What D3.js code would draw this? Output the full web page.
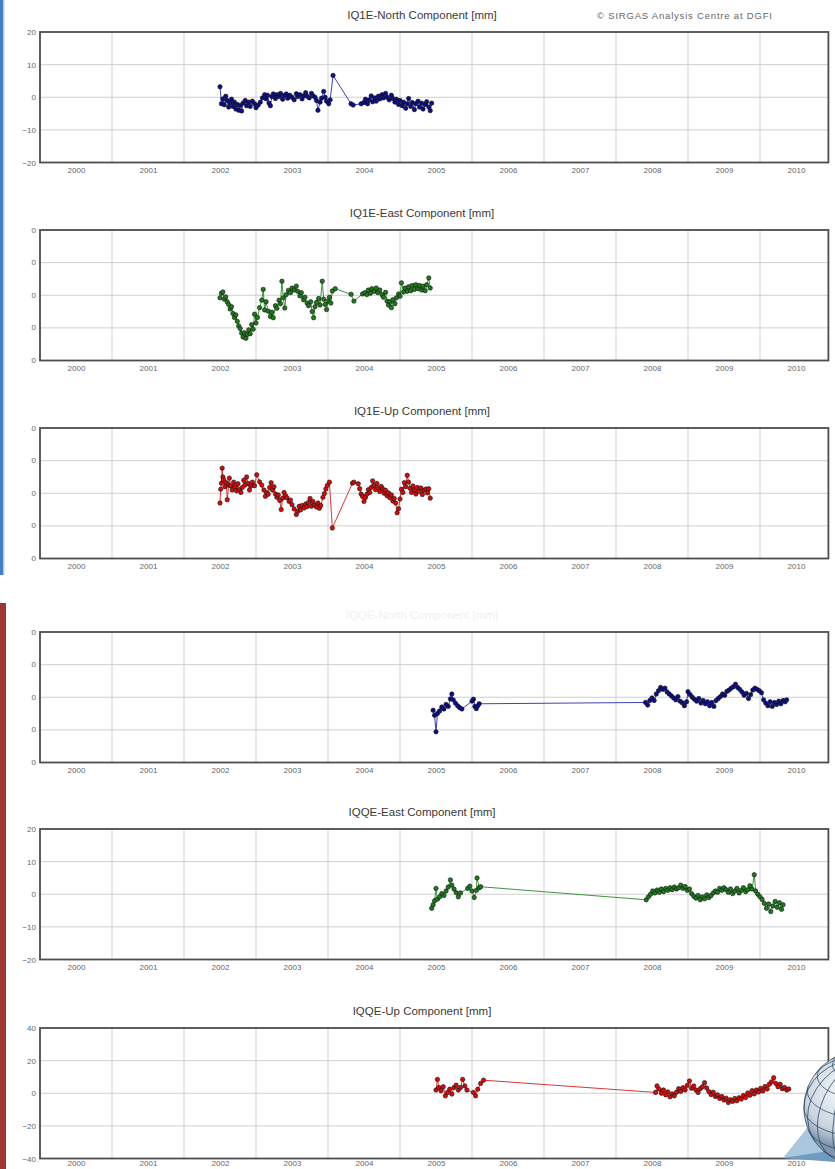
<!DOCTYPE html>
<html>
<head>
<meta charset="utf-8">
<script src="https://cdn.jsdelivr.net/npm/d3@7"></script>
<style>
  body { margin: 0; background: #fff; }
  svg { display: block; font-family: "Liberation Sans", Arial, sans-serif; }
</style>
</head>
<body>
<svg id="chart" width="835" height="1169"></svg>
<script>
// tick labels
const years = [2000, 2001, 2002, 2003, 2004, 2005, 2006, 2007, 2008, 2009, 2010];
const gridYears = [2000.5, 2001.5, 2002.5, 2003.5, 2004.5, 2005.5, 2006.5, 2007.5, 2008.5, 2009.5];
const ticks20 = [-20, -10, 0, 10, 20];
const ticks40 = [-40, -20, 0, 20, 40];

// station IQ1E, [epoch, mm]
const iq1eNorth = [
  [2002.00,3.2],[2002.02,-2.0],[2002.04,-0.5],[2002.06,-2.3],[2002.08,0.3],[2002.10,-1.0],[2002.12,-3.0],
  [2002.14,-1.8],[2002.16,-0.6],[2002.18,-2.8],[2002.20,-1.5],[2002.22,-3.6],[2002.24,-2.2],[2002.26,-4.0],
  [2002.28,-2.5],[2002.30,-4.2],[2002.32,-1.8],[2002.35,-1.0],[2002.37,-2.6],[2002.40,-1.5],[2002.42,-2.8],
  [2002.45,-1.2],[2002.48,-2.0],[2002.50,-3.2],[2002.53,-2.4],[2002.56,-1.5],[2002.59,-0.2],[2002.62,0.8],
  [2002.64,-0.5],[2002.66,0.6],[2002.68,-1.8],[2002.70,-2.6],[2002.72,0.2],[2002.74,1.0],[2002.77,-0.4],
  [2002.79,0.8],[2002.82,0.2],[2002.84,1.2],[2002.87,-0.6],[2002.89,0.5],[2002.92,1.0],[2002.94,-0.3],
  [2002.97,0.6],[2003.00,0.0],[2003.03,-0.8],[2003.06,1.1],[2003.08,0.2],[2003.11,0.8],[2003.14,-0.5],
  [2003.16,0.4],[2003.19,1.4],[2003.21,0.3],[2003.24,-0.2],[2003.27,1.2],[2003.29,0.5],[2003.32,0.0],
  [2003.34,-1.0],[2003.36,-4.0],[2003.39,-1.5],[2003.41,-0.3],[2003.44,1.8],[2003.46,0.0],[2003.48,-1.2],
  [2003.51,-2.0],[2003.53,-0.8],[2003.57,6.7],[2003.82,-2.0],[2003.85,-2.4],[2003.96,-2.0],[2004.00,-1.6],
  [2004.02,-0.6],[2004.05,-2.0],[2004.07,-0.8],[2004.10,0.4],[2004.12,-1.4],[2004.15,-0.2],[2004.17,-1.2],
  [2004.20,0.3],[2004.22,-0.5],[2004.25,0.8],[2004.27,-0.2],[2004.30,1.2],[2004.32,0.0],[2004.35,-0.8],
  [2004.38,0.6],[2004.40,-0.4],[2004.43,-1.5],[2004.45,-0.6],[2004.48,-2.2],[2004.50,-1.0],[2004.53,-2.6],
  [2004.55,-1.5],[2004.58,-3.4],[2004.60,-2.0],[2004.62,-0.4],[2004.65,-2.8],[2004.67,-1.6],[2004.70,-3.8],
  [2004.72,-2.0],[2004.75,-1.2],[2004.77,-3.0],[2004.80,-1.8],[2004.82,-3.6],[2004.85,-2.2],[2004.87,-1.4],
  [2004.90,-3.0],[2004.92,-4.1],[2004.94,-1.8]
];
const iq1eEast = [
  [2002.00,-0.8],[2002.02,0.6],[2002.04,1.0],[2002.06,-1.2],[2002.08,-0.5],[2002.10,-2.0],[2002.12,-2.8],
  [2002.14,-4.2],[2002.16,-3.5],[2002.18,-5.6],[2002.20,-6.8],[2002.22,-6.0],[2002.24,-8.0],[2002.26,-9.4],
  [2002.28,-10.2],[2002.30,-11.6],[2002.32,-12.8],[2002.34,-11.5],[2002.36,-13.2],[2002.38,-12.0],[2002.40,-10.6],
  [2002.42,-11.8],[2002.44,-9.0],[2002.46,-10.4],[2002.48,-5.8],[2002.50,-8.5],[2002.52,-6.8],[2002.55,-3.8],
  [2002.58,-1.5],[2002.60,1.8],[2002.62,-4.5],[2002.64,-2.0],[2002.67,-4.9],[2002.70,-6.5],[2002.72,-5.2],
  [2002.74,-6.9],[2002.77,-3.2],[2002.79,-4.0],[2002.82,-1.5],[2002.84,-2.6],[2002.86,4.3],[2002.88,-0.8],
  [2002.90,-3.9],[2002.92,0.2],[2002.95,1.5],[2002.98,0.8],[2003.00,2.2],[2003.03,1.6],[2003.06,2.8],
  [2003.08,1.2],[2003.11,-0.2],[2003.13,0.8],[2003.16,-1.4],[2003.18,-0.6],[2003.21,-2.4],[2003.23,-3.2],
  [2003.26,-2.0],[2003.28,-5.0],[2003.30,-6.9],[2003.32,-3.5],[2003.34,-2.2],[2003.37,-1.0],[2003.39,-3.0],
  [2003.42,4.3],[2003.44,-1.2],[2003.46,-2.8],[2003.48,-4.4],[2003.50,-1.8],[2003.52,-0.6],[2003.54,-2.4],
  [2003.56,1.3],[2003.60,2.0],[2003.82,0.3],[2003.86,-1.8],[2003.98,0.4],[2004.01,0.8],[2004.04,0.2],
  [2004.06,1.6],[2004.09,0.6],[2004.11,2.0],[2004.14,1.2],[2004.17,2.2],[2004.19,0.8],[2004.22,1.6],
  [2004.25,0.2],[2004.27,-0.6],[2004.30,0.9],[2004.32,-1.8],[2004.34,-3.0],[2004.36,-2.0],[2004.38,-3.8],
  [2004.40,-1.4],[2004.43,-2.6],[2004.45,-0.8],[2004.48,0.4],[2004.50,-0.3],[2004.52,3.8],[2004.55,1.0],
  [2004.57,2.2],[2004.60,1.2],[2004.62,2.6],[2004.65,1.4],[2004.67,3.0],[2004.70,1.8],[2004.72,3.2],
  [2004.75,2.0],[2004.77,3.0],[2004.80,1.6],[2004.82,2.8],[2004.85,1.4],[2004.87,3.2],[2004.90,5.3],
  [2004.92,2.2]
];
const iq1eUp = [
  [2002.00,-6.0],[2002.01,2.5],[2002.02,6.2],[2002.03,15.4],[2002.04,10.0],[2002.05,8.3],[2002.07,4.0],
  [2002.09,6.5],[2002.10,-4.0],[2002.12,5.0],[2002.13,9.3],[2002.15,4.5],[2002.17,2.0],[2002.19,6.8],
  [2002.21,4.0],[2002.23,1.5],[2002.25,5.8],[2002.27,2.2],[2002.29,0.5],[2002.31,3.5],[2002.33,8.0],
  [2002.35,5.0],[2002.37,10.0],[2002.39,6.0],[2002.41,2.0],[2002.43,4.5],[2002.45,6.8],[2002.48,4.6],
  [2002.51,11.3],[2002.55,7.0],[2002.58,5.0],[2002.61,2.0],[2002.63,-1.9],[2002.65,0.5],[2002.67,-0.6],
  [2002.69,3.5],[2002.71,6.5],[2002.73,2.0],[2002.75,4.0],[2002.77,-0.5],[2002.79,-2.5],[2002.81,-1.0],
  [2002.83,-4.5],[2002.85,-10.0],[2002.87,-3.0],[2002.89,0.5],[2002.91,-1.5],[2002.93,-2.8],[2002.96,-5.0],
  [2002.98,-4.2],[2003.00,-7.0],[2003.03,-9.6],[2003.06,-13.0],[2003.08,-11.0],[2003.10,-8.0],[2003.12,-10.2],
  [2003.14,-7.5],[2003.17,-9.0],[2003.19,-6.6],[2003.21,-8.2],[2003.23,-5.6],[2003.25,-3.2],[2003.27,-8.0],
  [2003.29,-5.0],[2003.31,-7.2],[2003.34,-8.4],[2003.36,-6.0],[2003.38,-9.2],[2003.40,-7.5],[2003.43,-2.5],
  [2003.45,-0.2],[2003.47,2.6],[2003.49,4.8],[2003.52,6.8],[2003.56,-21.3],[2003.84,6.2],[2003.86,6.8],
  [2003.92,5.8],[2003.94,2.8],[2003.96,-0.5],[2003.98,-2.0],[2004.00,-5.0],[2004.02,-2.6],[2004.04,-0.6],
  [2004.06,2.2],[2004.08,0.5],[2004.10,3.5],[2004.12,7.6],[2004.14,4.8],[2004.16,2.2],[2004.18,6.0],
  [2004.20,3.0],[2004.22,1.0],[2004.24,4.2],[2004.26,2.6],[2004.28,0.0],[2004.30,1.8],[2004.32,-1.5],
  [2004.34,0.2],[2004.36,-2.8],[2004.38,-1.0],[2004.40,-4.8],[2004.42,-3.2],[2004.44,-6.0],[2004.46,-12.0],
  [2004.48,-9.5],[2004.50,-3.5],[2004.52,2.5],[2004.54,0.5],[2004.56,6.5],[2004.58,4.0],[2004.60,11.0],
  [2004.62,6.8],[2004.64,3.0],[2004.66,0.5],[2004.68,4.5],[2004.70,2.0],[2004.72,-0.5],[2004.74,3.5],
  [2004.76,1.0],[2004.79,3.2],[2004.81,-0.8],[2004.83,1.8],[2004.86,2.6],[2004.88,0.2],[2004.90,2.8],
  [2004.92,-3.0]
];

// station IQQE, [epoch, mm]
const iqqeNorth = [
  [2004.96,-4.0],[2004.98,-5.5],[2005.00,-10.6],[2005.02,-5.0],[2005.05,-4.2],[2005.08,-3.0],[2005.11,-3.6],
  [2005.14,-2.2],[2005.17,-2.8],[2005.20,-0.5],[2005.22,1.0],[2005.24,-0.8],[2005.27,-1.8],[2005.30,-2.6],
  [2005.33,-3.2],[2005.36,-3.6],[2005.50,-1.2],[2005.52,-0.6],[2005.54,-2.8],[2005.56,-3.5],[2005.58,-2.6],
  [2005.60,-2.0],[2007.91,-1.6],[2007.94,-2.4],[2007.97,-1.0],[2008.00,-0.2],[2008.03,-1.0],[2008.06,1.0],
  [2008.09,2.0],[2008.12,3.0],[2008.15,2.4],[2008.18,2.8],[2008.21,1.6],[2008.24,1.0],[2008.27,0.4],
  [2008.30,-0.2],[2008.33,-0.8],[2008.36,0.2],[2008.39,-1.2],[2008.42,-1.7],[2008.45,-2.6],[2008.48,-1.4],
  [2008.50,1.7],[2008.53,0.8],[2008.56,0.0],[2008.59,-0.6],[2008.62,-1.2],[2008.65,-0.4],[2008.68,-1.8],
  [2008.71,-1.0],[2008.74,-2.0],[2008.77,-1.4],[2008.80,-2.6],[2008.83,-1.6],[2008.86,-2.8],[2008.89,-1.0],
  [2008.92,-0.4],[2008.95,0.2],[2008.98,1.0],[2009.01,0.6],[2009.04,1.8],[2009.07,2.2],[2009.10,2.8],
  [2009.13,3.2],[2009.16,4.0],[2009.19,3.0],[2009.22,2.4],[2009.25,1.6],[2009.28,0.6],[2009.31,1.2],
  [2009.34,-0.4],[2009.37,0.8],[2009.40,2.2],[2009.43,2.8],[2009.46,2.4],[2009.49,2.0],[2009.52,1.4],
  [2009.55,-0.8],[2009.58,-1.8],[2009.61,-2.6],[2009.64,-1.4],[2009.67,-2.8],[2009.70,-1.6],[2009.73,-2.2],
  [2009.76,-1.2],[2009.79,-2.0],[2009.82,-1.0],[2009.85,-1.4],[2009.87,-0.8]
];
const iqqeEast = [
  [2004.94,-4.3],[2004.96,-3.2],[2004.98,-2.0],[2005.00,1.8],[2005.02,-1.5],[2005.05,-0.8],[2005.08,0.2],
  [2005.11,-0.4],[2005.14,1.0],[2005.17,2.2],[2005.20,4.4],[2005.22,2.8],[2005.25,1.6],[2005.28,0.5],
  [2005.31,-0.8],[2005.34,0.4],[2005.44,1.8],[2005.47,2.5],[2005.50,1.0],[2005.53,-1.0],[2005.56,1.2],
  [2005.57,5.0],[2005.60,2.0],[2005.62,2.3],[2007.92,-1.7],[2007.95,-0.8],[2007.98,0.0],[2008.01,1.0],
  [2008.04,0.4],[2008.07,1.3],[2008.10,0.6],[2008.13,1.6],[2008.16,0.8],[2008.19,1.8],[2008.22,1.2],
  [2008.25,2.0],[2008.28,1.4],[2008.31,2.2],[2008.34,1.6],[2008.37,2.0],[2008.40,2.8],[2008.43,1.8],
  [2008.46,2.4],[2008.49,1.2],[2008.52,1.6],[2008.55,0.2],[2008.58,-0.6],[2008.61,-1.2],[2008.64,-0.4],
  [2008.67,-1.7],[2008.70,-0.8],[2008.73,-1.4],[2008.76,-0.2],[2008.79,-1.0],[2008.82,-0.4],[2008.85,0.4],
  [2008.88,1.0],[2008.91,0.6],[2008.94,1.8],[2008.97,1.2],[2009.00,2.0],[2009.03,1.4],[2009.06,0.6],
  [2009.09,1.6],[2009.12,0.2],[2009.15,1.0],[2009.18,1.8],[2009.21,0.4],[2009.24,1.2],[2009.27,2.0],
  [2009.30,0.8],[2009.33,1.4],[2009.36,2.6],[2009.39,1.6],[2009.42,6.0],[2009.44,1.0],[2009.47,0.0],
  [2009.50,-0.8],[2009.53,-1.6],[2009.56,-2.8],[2009.59,-4.3],[2009.62,-3.0],[2009.65,-5.3],[2009.68,-3.6],
  [2009.71,-2.2],[2009.74,-4.0],[2009.77,-2.6],[2009.80,-4.6],[2009.82,-3.2]
];
const iqqeUp = [
  [2005.00,2.0],[2005.02,8.5],[2005.04,3.5],[2005.07,1.5],[2005.10,4.0],[2005.13,-1.6],[2005.16,0.5],
  [2005.19,2.5],[2005.22,-0.5],[2005.25,3.5],[2005.28,5.0],[2005.31,2.0],[2005.34,3.5],[2005.37,8.5],
  [2005.40,4.5],[2005.43,2.0],[2005.52,0.5],[2005.55,-1.6],[2005.58,2.5],[2005.62,6.0],[2005.66,8.0],
  [2008.05,0.5],[2008.07,4.5],[2008.10,2.5],[2008.13,0.0],[2008.16,2.0],[2008.19,-1.0],[2008.22,0.8],
  [2008.25,-2.2],[2008.28,-0.4],[2008.31,-1.6],[2008.34,0.6],[2008.37,2.8],[2008.40,1.2],[2008.43,3.4],
  [2008.46,2.0],[2008.49,4.8],[2008.52,7.5],[2008.55,3.0],[2008.58,4.5],[2008.61,2.0],[2008.64,0.5],
  [2008.67,2.8],[2008.70,4.0],[2008.73,6.5],[2008.76,3.2],[2008.79,1.0],[2008.82,-0.8],[2008.85,0.6],
  [2008.88,-2.0],[2008.91,-1.0],[2008.94,-3.2],[2008.97,-2.0],[2009.00,-4.2],[2009.03,-3.0],[2009.06,-5.7],
  [2009.09,-4.0],[2009.12,-5.0],[2009.15,-3.2],[2009.18,-4.6],[2009.21,-2.8],[2009.24,-3.6],[2009.27,-1.4],
  [2009.30,-2.6],[2009.33,0.2],[2009.36,-1.2],[2009.39,1.6],[2009.42,-0.4],[2009.45,2.0],[2009.48,0.8],
  [2009.51,3.0],[2009.54,1.4],[2009.57,4.2],[2009.60,2.6],[2009.63,5.5],[2009.66,7.0],[2009.69,9.5],
  [2009.72,6.0],[2009.75,4.0],[2009.78,5.5],[2009.81,2.8],[2009.84,3.6],[2009.87,2.0],[2009.90,2.6]
];

const blue = {line: "#2a2aa8", dot: "#0d0d86"};
const green = {line: "#2f862f", dot: "#1d7a1d"};
const red = {line: "#d42020", dot: "#d00c0c"};

const panels = [
  {title: "IQ1E-North Component [mm]", data: iq1eNorth, ticks: ticks20, top: 32, col: blue, clipLabels: false},
  {title: "IQ1E-East Component [mm]", data: iq1eEast, ticks: ticks20, top: 230, col: green, clipLabels: true},
  {title: "IQ1E-Up Component [mm]", data: iq1eUp, ticks: ticks40, top: 428, col: red, clipLabels: true},
  {title: "IQQE-North Component [mm]", data: iqqeNorth, ticks: ticks20, top: 632, col: blue, clipLabels: true, ghost: true},
  {title: "IQQE-East Component [mm]", data: iqqeEast, ticks: ticks20, top: 829, col: green, clipLabels: false},
  {title: "IQQE-Up Component [mm]", data: iqqeUp, ticks: ticks40, top: 1028, col: red, clipLabels: false, tight: true}
];

const svg = d3.select("#chart");
const left = 40, right = 828.4, h = 130.5;

const x = d3.scaleLinear().domain([1999.5, 2010.45]).range([left, right]);

const defs = svg.append("defs");
defs.append("clipPath").attr("id", "labelclip")
  .append("rect").attr("x", 31).attr("y", 0).attr("width", 16).attr("height", 1169);

const axisLayer = [];

panels.forEach((p) => {
  const y = d3.scaleLinear().domain(d3.extent(p.ticks)).range([p.top + h, p.top]);
  const g = svg.append("g");

  // grid
  g.selectAll(".vg").data(gridYears).enter().append("line")
    .attr("x1", d => x(d)).attr("x2", d => x(d))
    .attr("y1", p.top).attr("y2", p.top + h)
    .attr("stroke", "#c9c9c9").attr("stroke-width", 0.9);
  g.selectAll(".hg").data(p.ticks.slice(1, -1)).enter().append("line")
    .attr("x1", left).attr("x2", right)
    .attr("y1", d => y(d)).attr("y2", d => y(d))
    .attr("stroke", "#c9c9c9").attr("stroke-width", 0.9);

  // series
  const line = d3.line().x(d => x(d[0])).y(d => y(d[1]));
  g.append("path").datum(p.data)
    .attr("d", line)
    .attr("fill", "none")
    .attr("stroke", p.col.line)
    .attr("stroke-width", 0.9);
  g.selectAll("circle").data(p.data).enter().append("circle")
    .attr("cx", d => x(d[0])).attr("cy", d => y(d[1]))
    .attr("r", 2.2)
    .attr("fill", p.col.dot)
    .attr("stroke", "#141414").attr("stroke-width", 0.6);

  // frame
  g.append("rect")
    .attr("x", left).attr("y", p.top)
    .attr("width", right - left).attr("height", h)
    .attr("fill", "none").attr("stroke", "#4d4d4d").attr("stroke-width", 1.8);

  // axes
  const xa = g.append("g")
    .attr("transform", `translate(0,${p.top + h})`)
    .call(d3.axisBottom(x).tickValues(years).tickSize(0).tickPadding(p.tight ? 2 : 5).tickFormat(d3.format("d")));
  xa.select(".domain").remove();
  xa.selectAll("text").attr("font-size", 8).attr("fill", "#666").attr("font-family", "Liberation Sans, Arial, sans-serif");

  const ya = g.append("g")
    .attr("transform", `translate(${left},0)`)
    .call(d3.axisLeft(y).tickValues(p.ticks).tickSize(0).tickPadding(4));
  ya.select(".domain").remove();
  ya.selectAll("text").attr("font-size", 8).attr("fill", "#666").attr("font-family", "Liberation Sans, Arial, sans-serif");
  if (p.clipLabels) ya.attr("clip-path", "url(#labelclip)").attr("transform", null)
    .selectAll(".tick").attr("transform", d => `translate(${left},${y(d)})`);

  g.append("text")
    .attr("x", 422).attr("y", p.top - 13)
    .attr("text-anchor", "middle")
    .attr("font-size", 11.5)
    .attr("fill", p.ghost ? "#f0f0f0" : "#3a3a3a")
    .text(p.title);
});

svg.append("text")
  .attr("x", 597).attr("y", 19)
  .attr("font-size", 9.5)
  .attr("letter-spacing", 0.8)
  .attr("fill", "#666")
  .text("\u00a9 SIRGAS Analysis Centre at DGFI");

// slide side bars
svg.append("rect").attr("x", 0).attr("y", 0).attr("width", 3).attr("height", 575).attr("fill", "#4a7dc0");
svg.append("rect").attr("x", 3).attr("y", 0).attr("width", 1.5).attr("height", 575).attr("fill", "#b8cde8");
svg.append("rect").attr("x", 0).attr("y", 603).attr("width", 6).attr("height", 566).attr("fill", "#9c3734");

// globe logo, bottom right
const logo = svg.append("g");
logo.append("polygon")
  .attr("points", "783,1158 812,1122 835,1100 835,1160")
  .attr("fill", "#a9c8df");
logo.append("polygon")
  .attr("points", "783,1158 835,1150 835,1162")
  .attr("fill", "#6e9bbf");
const grad = defs.append("radialGradient").attr("id", "globeFill").attr("cx", "35%").attr("cy", "35%");
grad.append("stop").attr("offset", "0%").attr("stop-color", "#f7f9fb");
grad.append("stop").attr("offset", "70%").attr("stop-color", "#c9d5e1");
grad.append("stop").attr("offset", "100%").attr("stop-color", "#7e95ad");
const proj = d3.geoOrthographic().scale(57).translate([861, 1108]).rotate([30, -30]);
const gpath = d3.geoPath(proj);
logo.append("path").datum({type: "Sphere"}).attr("d", gpath).attr("fill", "url(#globeFill)").attr("stroke", "#3b4f66").attr("stroke-width", 0.8);
logo.append("path").datum(d3.geoGraticule().step([20, 20])()).attr("d", gpath)
  .attr("fill", "none").attr("stroke", "#34485e").attr("stroke-width", 0.8);
</script>
</body>
</html>
